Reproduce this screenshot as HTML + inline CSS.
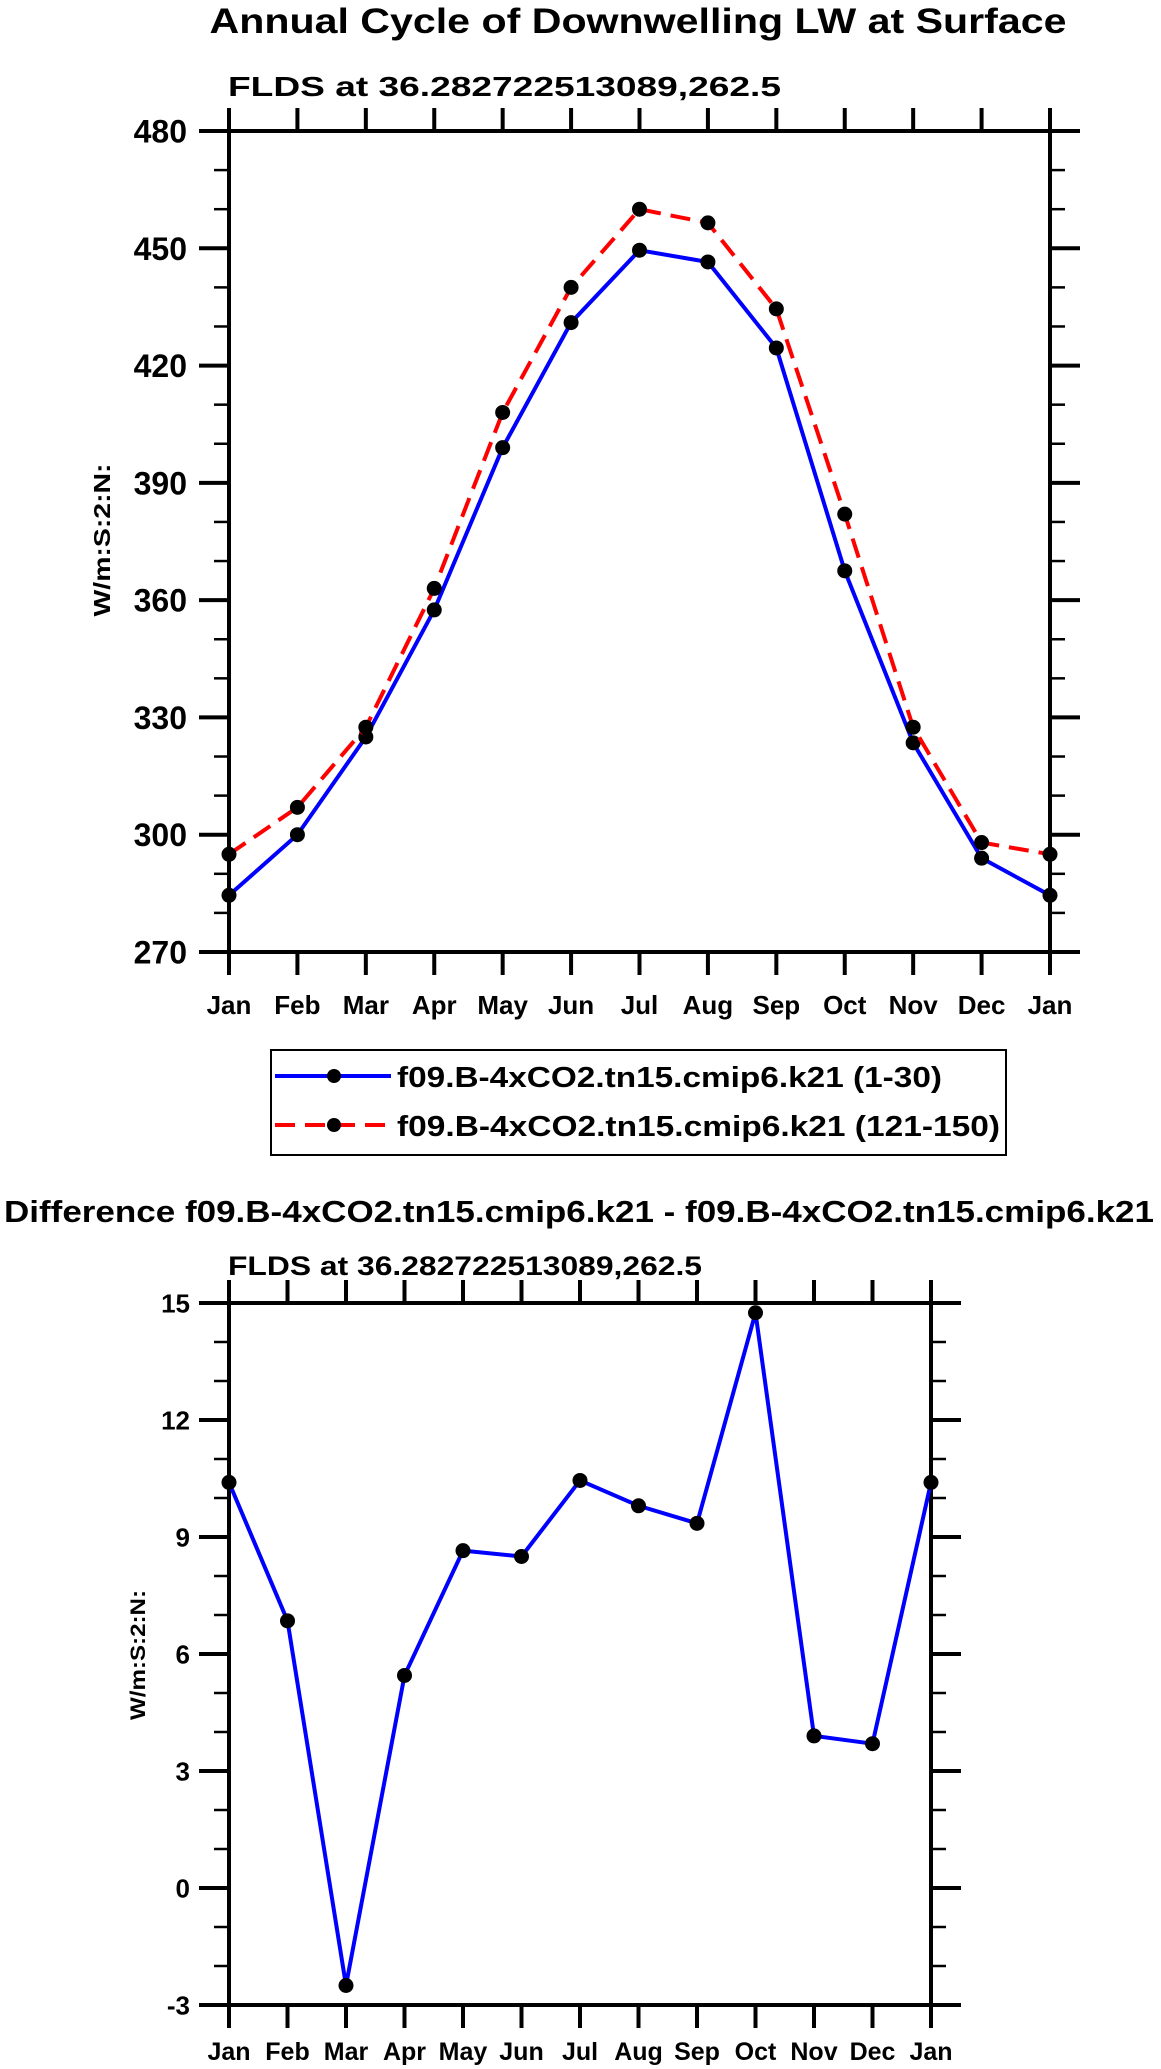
<!DOCTYPE html>
<html><head><meta charset="utf-8"><style>
html,body{margin:0;padding:0;background:#fff;}
svg{display:block;font-family:"Liberation Sans",Arial,sans-serif;font-weight:bold;}
</style></head><body>
<svg id="s" width="1161" height="2069" viewBox="0 0 1161 2069" xmlns="http://www.w3.org/2000/svg">
<text x="638" y="33" font-size="35" text-anchor="middle" textLength="857" lengthAdjust="spacingAndGlyphs">Annual Cycle of Downwelling LW at Surface</text>
<text x="228" y="96" font-size="28" textLength="553" lengthAdjust="spacingAndGlyphs">FLDS at 36.282722513089,262.5</text>
<text x="579" y="1222" font-size="31" text-anchor="middle" textLength="1150" lengthAdjust="spacingAndGlyphs">Difference f09.B-4xCO2.tn15.cmip6.k21 - f09.B-4xCO2.tn15.cmip6.k21</text>
<text x="228" y="1275" font-size="27" textLength="474" lengthAdjust="spacingAndGlyphs">FLDS at 36.282722513089,262.5</text>
<g>
<rect x="271" y="1050" width="735" height="105" fill="none" stroke="#000" stroke-width="2"/>
<g>
<line x1="275" y1="1076" x2="391" y2="1076" stroke="#00f" stroke-width="4"/>
<circle cx="334" cy="1076" r="7" fill="#000"/>
<text x="397" y="1087" font-size="29" textLength="545" lengthAdjust="spacingAndGlyphs">f09.B-4xCO2.tn15.cmip6.k21 (1-30)</text>
</g>
<g>
<line x1="275" y1="1125" x2="391" y2="1125" stroke="#f00" stroke-width="4" stroke-dasharray="20,10"/>
<circle cx="334" cy="1125" r="7" fill="#000"/>
<text x="397" y="1136" font-size="29" textLength="603" lengthAdjust="spacingAndGlyphs">f09.B-4xCO2.tn15.cmip6.k21 (121-150)</text>
</g>
</g>
<text transform="translate(110,540) rotate(-90)" font-size="23" text-anchor="middle" textLength="153" lengthAdjust="spacingAndGlyphs">W/m:S:2:N:</text>
<text transform="translate(145,1655) rotate(-90)" font-size="21" text-anchor="middle" textLength="130" lengthAdjust="spacingAndGlyphs">W/m:S:2:N:</text>
</svg>
<script>
const months = ["Jan","Feb","Mar","Apr","May","Jun","Jul","Aug","Sep","Oct","Nov","Dec","Jan"];
const topTicks = [270,300,330,360,390,420,450,480];
const seriesEarly = [284.5,300,325,357.5,399,431,449.5,446.5,424.5,367.5,323.5,294,284.5];
const seriesLate = [295,307,327.5,363,408,440,460,456.5,434.5,382,327.5,298,295];
const diffTicks = [-3,0,3,6,9,12,15];
const diffValues = [10.4,6.85,-2.5,5.45,8.65,8.5,10.45,9.8,9.35,14.75,3.9,3.7,10.4];

const NS="http://www.w3.org/2000/svg";
const svgRoot=document.getElementById('s');
function mk(tag,attrs,parent){const e=document.createElementNS(NS,tag);for(const k in attrs)e.setAttribute(k,attrs[k]);(parent||svgRoot).appendChild(e);return e;}

function drawPanel(cfg){
  const L=cfg.L,R=cfg.R,T=cfg.T,B=cfg.B,ymin=cfg.ymin,ymax=cfg.ymax,ticks=cfg.ticks,name=cfg.name;
  const g=mk('g',{});
  
  
  const xs=i=>L+(R-L)*i/(months.length-1);
  const ys=v=>B-(B-T)*(v-ymin)/(ymax-ymin);
  const nSteps=Math.round((ymax-ymin)/cfg.minorStep);
  for(let k=0;k<=nSteps;k++){
    const v=ymin+k*cfg.minorStep;
    const isMajor=ticks.some(t=>Math.abs(t-v)<1e-9);
    const len=isMajor?30:15;
    const w=isMajor?4:2.5;
    mk('line',{x1:L-len,y1:ys(v),x2:L,y2:ys(v),stroke:'#000','stroke-width':w},g);
    mk('line',{x1:R,y1:ys(v),x2:R+len,y2:ys(v),stroke:'#000','stroke-width':w},g);
  }
  ticks.forEach(t=>{
    const tx=mk('text',{x:cfg.labRight,y:ys(t)+cfg.tickFont*0.36,'font-size':cfg.tickFont,'text-anchor':'end'},g);
    tx.textContent=t;
    
    
  });
  months.forEach((m,i)=>{
    mk('line',{x1:xs(i),y1:B,x2:xs(i),y2:B+23,stroke:'#000','stroke-width':4},g);
    mk('line',{x1:xs(i),y1:T-23,x2:xs(i),y2:T,stroke:'#000','stroke-width':4},g);
    const tx=mk('text',{x:xs(i),y:cfg.monY,'font-size':cfg.monFont,'text-anchor':'middle'},g);
    tx.textContent=m;
    
    
  });
  const frame=mk('rect',{x:L,y:T,width:R-L,height:B-T,fill:'none',stroke:'#000','stroke-width':4},g);
  
  
  return {g:g,xs:xs,ys:ys};
}
function drawSeries(p,vals,color,dash,name){
  const pl=mk('polyline',{points:vals.map((v,i)=>p.xs(i)+','+p.ys(v)).join(' '),fill:'none',stroke:color,'stroke-width':4,'stroke-dasharray':dash||'none'},p.g);
  
  
  vals.forEach((v,i)=>{
    const c=mk('circle',{cx:p.xs(i),cy:p.ys(v),r:7.5,fill:'#000'},p.g);
    
    
  });
}
const topPanel=drawPanel({L:229,R:1050,T:131,B:952,ymin:270,ymax:480,ticks:topTicks,minorStep:10,name:'top',tickFont:32,monFont:26,monY:1014,labRight:187});
drawSeries(topPanel,seriesEarly,'#00f',null,'series-1-30');
drawSeries(topPanel,seriesLate,'#f00','20,10','series-121-150');
const bottomPanel=drawPanel({L:229,R:931,T:1303,B:2005,ymin:-3,ymax:15,ticks:diffTicks,minorStep:1,name:'bottom',tickFont:26,monFont:25,monY:2060,labRight:190});
drawSeries(bottomPanel,diffValues,'#00f',null,'difference');
</script>
</body></html>
